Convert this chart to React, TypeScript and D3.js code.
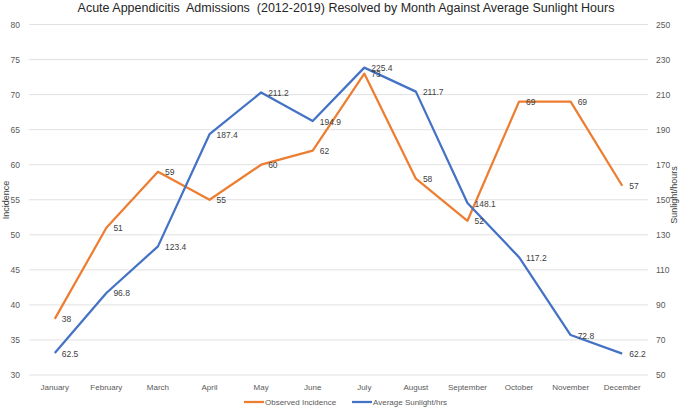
import React from "react";
import * as d3 from "d3";

const months = ["January","February","March","April","May","June","July","August","September","October","November","December"];
const incidence = [38, 51, 59, 55, 60, 62, 73, 58, 52, 69, 69, 57];
const sunlight = [62.5, 96.8, 123.4, 187.4, 211.2, 194.9, 225.4, 211.7, 148.1, 117.2, 72.8, 62.2];
const leftTicks = [30, 35, 40, 45, 50, 55, 60, 65, 70, 75, 80];
const rightTicks = [50, 70, 90, 110, 130, 150, 170, 190, 210, 230, 250];

const W = 685, H = 407;
const L = 29, R = 648, T = 24.5, B = 375;
const FONT = "'Liberation Sans', Arial, sans-serif";

export default function App() {
  const x = d3.scaleBand().domain(months).range([L, R]);
  const yL = d3.scaleLinear().domain([30, 80]).range([B, T]);
  const yR = d3.scaleLinear().domain([50, 250]).range([B, T]);
  const cx = (m: string) => (x(m) as number) + x.bandwidth() / 2;
  const lineL = d3.line<number>().x((_, i) => cx(months[i])).y((d) => yL(d));
  const lineR = d3.line<number>().x((_, i) => cx(months[i])).y((d) => yR(d));
  const orange = "#ED7D31", blue = "#4472C4";
  return (
    <svg width={W} height={H} style={{ position: "absolute", left: 0, top: 0, background: "#fff" }} fontFamily={FONT}>
      <text x={346} y={12} textAnchor="middle" fontSize={12.5} fill="#262626" style={{ whiteSpace: "pre" }}>
        {"Acute Appendicitis  Admissions  (2012-2019) Resolved by Month Against Average Sunlight Hours"}
      </text>
      {leftTicks.map((t) => (
        <g key={t}>
          <line x1={L} x2={R} y1={yL(t)} y2={yL(t)} stroke="#D9D9D9" strokeWidth={0.8} />
          <text x={20} y={yL(t) + 3} textAnchor="end" fontSize={8.5} fill="#595959">{t}</text>
        </g>
      ))}
      {rightTicks.map((t) => (
        <text key={t} x={656} y={yR(t) + 3} fontSize={8.5} fill="#595959">{t}</text>
      ))}
      {months.map((m) => (
        <text key={m} x={cx(m)} y={390} textAnchor="middle" fontSize={8} fill="#595959">{m}</text>
      ))}
      <text transform={`translate(9,200) rotate(-90)`} textAnchor="middle" fontSize={9} fill="#404040">Incidence</text>
      <text transform={`translate(677,195) rotate(-90)`} textAnchor="middle" fontSize={9} fill="#404040">Sunlight/hours</text>
      <path d={lineL(incidence) || ""} fill="none" stroke={orange} strokeWidth={2.25} strokeLinejoin="round" />
      <path d={lineR(sunlight) || ""} fill="none" stroke={blue} strokeWidth={2.25} strokeLinejoin="round" />
      {incidence.map((v, i) => (
        <text key={"o" + i} x={cx(months[i]) + 7} y={yL(v) + 3.5} fontSize={8.5} fill="#404040">{v}</text>
      ))}
      {sunlight.map((v, i) => (
        <text key={"b" + i} x={cx(months[i]) + 7} y={yR(v) + 3.5} fontSize={8.5} fill="#404040">{v}</text>
      ))}
      <line x1={244} x2={264} y1={402} y2={402} stroke={orange} strokeWidth={2.25} />
      <text x={265} y={405} fontSize={8} fill="#595959">Observed Incidence</text>
      <line x1={352} x2={372} y1={402} y2={402} stroke={blue} strokeWidth={2.25} />
      <text x={373} y={405} fontSize={8} fill="#595959">Average Sunlight/hrs</text>
    </svg>
  );
}
